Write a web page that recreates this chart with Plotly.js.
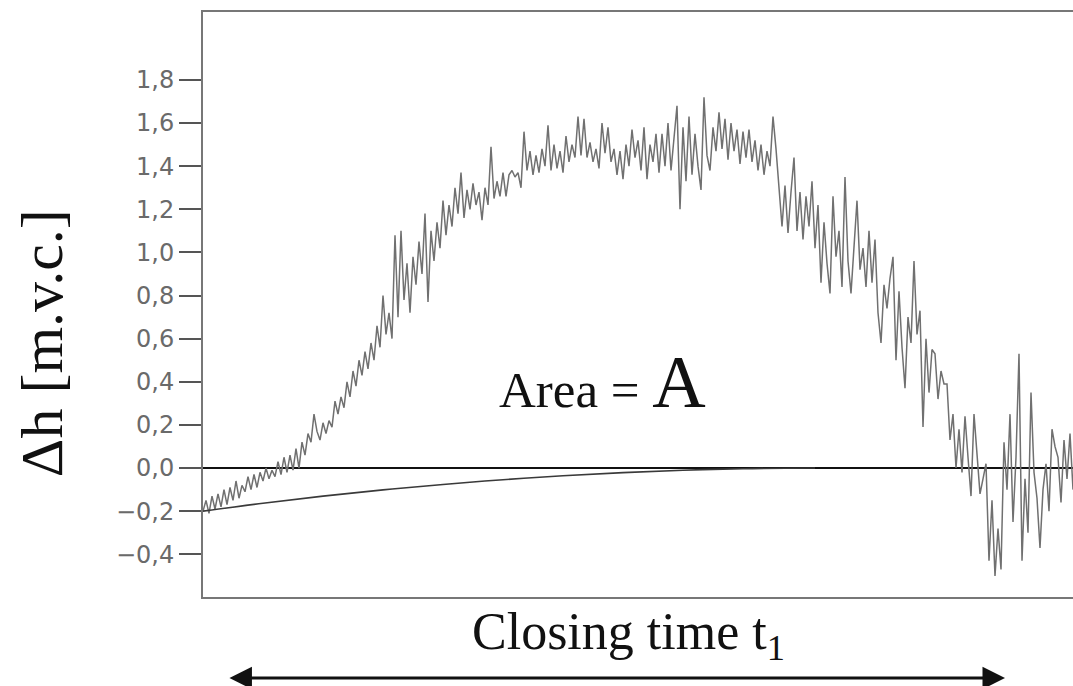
<!DOCTYPE html>
<html>
<head>
<meta charset="utf-8">
<script src="https://cdn.plot.ly/plotly-3.0.1.min.js"></script>
<style>
  html, body { margin: 0; padding: 0; overflow: hidden; background: #fff; }
  #chart { width: 1090px; height: 686px; }
</style>
</head>
<body>
<div id="chart"></div>
<script>
// Pressure head difference Δh during valve closing, sampled every 3 time units
const sampleStep = 3;
const deltaH = [
  -0.20, -0.15, -0.21, -0.13, -0.19, -0.12, -0.18, -0.10, -0.17, -0.09, -0.15, -0.06, -0.14, -0.08, -0.11, -0.04, -0.10,
  -0.03, -0.09, -0.02, -0.06, 0.00, -0.05, -0.01, -0.04, 0.03, -0.03, 0.05, -0.02, 0.06, -0.01, 0.09, 0.00, 0.12,
  0.06, 0.16, 0.12, 0.25, 0.17, 0.13, 0.21, 0.16, 0.22, 0.19, 0.31, 0.25, 0.33, 0.28, 0.40, 0.33, 0.45, 0.38, 0.50,
  0.43, 0.54, 0.46, 0.58, 0.50, 0.66, 0.56, 0.80, 0.62, 0.72, 0.60, 1.08, 0.70, 1.10, 0.78, 0.95, 0.72,
  0.98, 0.85, 1.05, 0.90, 1.18, 0.77, 1.10, 0.96, 1.14, 1.02, 1.24, 1.08, 1.22, 1.12, 1.30, 1.18, 1.37, 1.16,
  1.29, 1.20, 1.32, 1.22, 1.28, 1.15, 1.30, 1.22, 1.49, 1.25, 1.33, 1.26,
  1.37, 1.26, 1.36, 1.38, 1.35, 1.37, 1.30, 1.56, 1.38, 1.47, 1.36, 1.45, 1.37, 1.48, 1.40, 1.59, 1.38, 1.50,
  1.39, 1.47, 1.37, 1.54, 1.42, 1.50, 1.44, 1.63, 1.45, 1.62, 1.44, 1.51, 1.42, 1.48, 1.39, 1.60, 1.46, 1.58,
  1.42, 1.48, 1.36, 1.47, 1.34, 1.50, 1.40, 1.57, 1.44, 1.52, 1.38, 1.58, 1.34, 1.50, 1.42, 1.55, 1.37,
  1.55, 1.40, 1.60, 1.38, 1.52, 1.68, 1.20, 1.58, 1.33, 1.63, 1.36, 1.55, 1.40, 1.29, 1.72, 1.45, 1.38, 1.58,
  1.47, 1.65, 1.48, 1.62, 1.43, 1.60, 1.47, 1.57, 1.41, 1.56, 1.44, 1.57, 1.42, 1.52, 1.38, 1.50, 1.36, 1.47,
  1.40, 1.63, 1.48, 1.30, 1.12, 1.31, 1.09, 1.28, 1.44, 1.10, 1.28, 1.06, 1.26, 1.12,
  1.33, 1.02, 1.22, 0.86, 1.14, 0.95, 0.81, 1.26, 0.98, 1.10, 0.84, 1.35, 0.96, 0.81, 1.05, 1.24, 0.92, 1.02,
  0.84, 1.10, 0.86, 1.06, 0.72, 0.58, 0.85, 0.74, 0.88, 0.98, 0.50, 0.82, 0.56, 0.37, 0.70, 0.58, 0.96, 0.62,
  0.73, 0.19, 0.60, 0.35, 0.55, 0.53, 0.32, 0.45,
  0.39, 0.39, 0.13, 0.25, 0.00, 0.18, -0.02, 0.24, 0.05, -0.13, 0.25, 0.08, -0.12, -0.05, 0.02, -0.43, -0.15,
  -0.50, -0.28, -0.47, 0.12, -0.10, 0.25, -0.25, 0.05, 0.53, -0.43, -0.05, -0.30, 0.35, -0.02, -0.14, -0.37,
  -0.10, 0.02, -0.20, 0.18, 0.10, 0.05, -0.16, 0.13, -0.05, 0.16, -0.10
];
const sampleTime = deltaH.map((_, i) => i * sampleStep);

// Smooth baseline curve rising to zero
const baseTime = [0, 60, 120, 180, 240, 300, 360, 420, 480, 540, 612];
const baseValue = [-0.20, -0.163, -0.130, -0.101, -0.076, -0.054, -0.036, -0.021, -0.010, -0.003, 0.0];

// Y axis ticks with decimal comma
const yTickVals = [-0.4, -0.2, 0.0, 0.2, 0.4, 0.6, 0.8, 1.0, 1.2, 1.4, 1.6, 1.8];
const yTickText = ['−0,4', '−0,2', '0,0', '0,2', '0,4', '0,6', '0,8', '1,0', '1,2', '1,4', '1,6', '1,8'];

// Closing-time span marked by the double arrow (paper fractions of the plot width)
const closingStart = 0.0283;
const closingEnd = 0.9093;
const arrowLevel = -0.1385;

const serif = '"Liberation Serif", "Times New Roman", serif';
const plotWidthPx = 882;

const traces = [
  {
    x: sampleTime, y: deltaH, type: 'scatter', mode: 'lines',
    line: { color: '#707070', width: 1.5 },
    hoverinfo: 'skip', showlegend: false
  },
  {
    x: baseTime, y: baseValue, type: 'scatter', mode: 'lines',
    line: { color: '#3a3a3a', width: 1.6, shape: 'spline' },
    hoverinfo: 'skip', showlegend: false
  }
];

const layout = {
  width: 1090, height: 686,
  margin: { l: 203, r: 5, t: 12, b: 89 },
  paper_bgcolor: '#ffffff', plot_bgcolor: '#ffffff',
  showlegend: false,
  xaxis: {
    range: [0, 882], showgrid: false, zeroline: false,
    showticklabels: false, ticks: '',
    showline: true, mirror: true, linecolor: '#777', linewidth: 2
  },
  yaxis: {
    range: [-0.598, 2.115], showgrid: false,
    zeroline: true, zerolinecolor: '#111', zerolinewidth: 2,
    tickmode: 'array', tickvals: yTickVals, ticktext: yTickText,
    ticks: 'outside', ticklen: 22, tickwidth: 2, tickcolor: '#555',
    tickfont: { family: '"DejaVu Sans", sans-serif', size: 24, color: '#6a6a6a' },
    showline: true, mirror: true, linecolor: '#777', linewidth: 2
  },
  annotations: [
    {
      xref: 'paper', yref: 'paper', x: -0.1825, y: 0.434,
      xanchor: 'center', yanchor: 'middle',
      text: 'Δh [m.v.c.]', textangle: -90, showarrow: false,
      font: { family: serif, size: 60, color: '#111' }
    },
    {
      xref: 'x', yref: 'y', x: 399, y: 0.40,
      xanchor: 'center', yanchor: 'middle',
      text: 'Area =&nbsp;<span style="font-size:74px">A</span>', showarrow: false,
      font: { family: serif, size: 51, color: '#111' }
    },
    {
      xref: 'paper', yref: 'paper', x: 0.482, y: -0.066,
      xanchor: 'center', yanchor: 'middle',
      text: 'Closing time t<sub>1</sub>', showarrow: false,
      font: { family: serif, size: 52, color: '#111' }
    },
    {
      xref: 'paper', yref: 'paper', axref: 'pixel', ayref: 'pixel',
      x: closingEnd, y: arrowLevel,
      ax: -(closingEnd - closingStart) * plotWidthPx, ay: 0,
      text: '', showarrow: true, arrowside: 'end+start',
      arrowhead: 2, arrowsize: 1.5, arrowwidth: 3, arrowcolor: '#111'
    }
  ]
};

Plotly.newPlot('chart', traces, layout, { staticPlot: true });
</script>
</body>
</html>
